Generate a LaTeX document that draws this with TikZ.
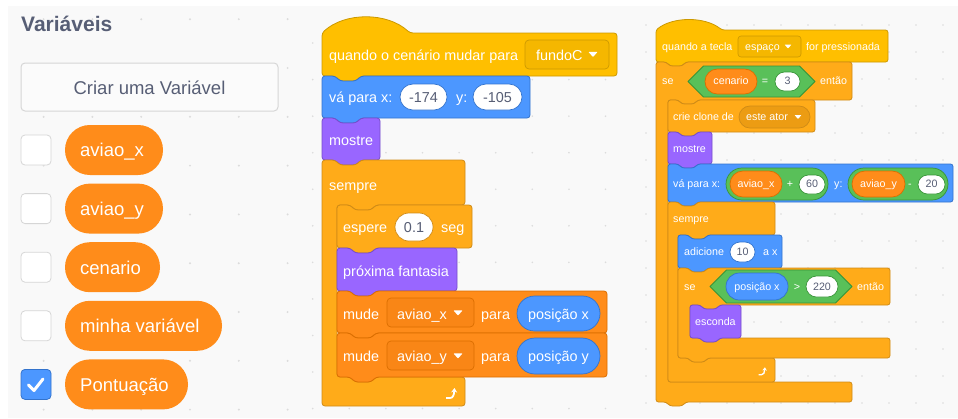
\documentclass[tikz,border=0pt]{standalone}
\usepackage{fontspec}
\setmainfont{Liberation Sans}
\usetikzlibrary{arrows.meta}
\definecolor{bg}{HTML}{F9F9F9}
\definecolor{dotc}{HTML}{DCDCDC}
\definecolor{txtg}{HTML}{575E75}
\definecolor{evt}{HTML}{FFBF00}
\definecolor{evtB}{HTML}{CC9900}
\definecolor{evtD}{HTML}{F5B700}
\definecolor{ctl}{HTML}{FFAB19}
\definecolor{ctlB}{HTML}{CF8B17}
\definecolor{ctlD}{HTML}{EC9C13}
\definecolor{mot}{HTML}{4C97FF}
\definecolor{motB}{HTML}{3373CC}
\definecolor{lks}{HTML}{9966FF}
\definecolor{lksB}{HTML}{774DCB}
\definecolor{varc}{HTML}{FF8C1A}
\definecolor{varB}{HTML}{DB6E00}
\definecolor{varD}{HTML}{F98616}
\definecolor{ops}{HTML}{59C059}
\definecolor{opsB}{HTML}{389438}
\definecolor{cbB}{HTML}{D6D6D6}
\newcommand\RC{3}
\newcommand\NA{13}
\newcommand\ND{5}
\newcommand\NF{16}
\newcommand\NDB{\ND}
\newcommand\setR{\renewcommand\RC{2.5}\renewcommand\NA{10}\renewcommand\ND{4}\renewcommand\NF{12}}
% stack block: x1 y1 x2 y2 fill draw
\newcommand\stk[6]{\filldraw[blk,fill=#5,draw=#6] (#1,#2) -- ({#1+\NA},#2) -- ({#1+\NA+\ND},{#2+\ND}) -- ({#1+\NA+\ND+\NF},{#2+\ND}) -- ({#1+\NA+2*\ND+\NF},#2) -- (#3,#2) -- (#3,#4) -- ({#1+\NA+2*\ND+\NF},#4) -- ({#1+\NA+\ND+\NF},{#4+\ND}) -- ({#1+\NA+\ND},{#4+\ND}) -- ({#1+\NA},#4) -- (#1,#4) -- cycle;}
% hat block: x1 y1 x2 y2 capwidth capctrl
\newcommand\hatblk[6]{\filldraw[blk,fill=evt,draw=evtB] (#1,#2) .. controls ({#1+0.26*#5},{#2-#6}) and ({#1+0.74*#5},{#2-#6}) .. ({#1+#5},#2) -- (#3,#2) -- (#3,#4) -- ({#1+\NA+2*\ND+\NF},#4) -- ({#1+\NA+\ND+\NF},{#4+\ND}) -- ({#1+\NA+\ND},{#4+\ND}) -- ({#1+\NA},#4) -- (#1,#4) -- cycle;}
% C block: x1 y1 x2 yArm xIn yIn2 yBot x2b bumpdepth
\newcommand\cblk[9]{\filldraw[blk,fill=ctl,draw=ctlB] (#1,#2) -- ({#1+\NA},#2) -- ({#1+\NA+\ND},{#2+\ND}) -- ({#1+\NA+\ND+\NF},{#2+\ND}) -- ({#1+\NA+2*\ND+\NF},#2) -- (#3,#2) -- (#3,#4) -- ({#5+\NA+2*\ND+\NF},#4) -- ({#5+\NA+\ND+\NF},{#4+\ND}) -- ({#5+\NA+\ND},{#4+\ND}) -- ({#5+\NA},#4) -- (#5,#4) -- (#5,#6) -- ({#5+\NA},#6) -- ({#5+\NA+\ND},{#6+\NDB}) -- ({#5+\NA+\ND+\NF},{#6+\NDB}) -- ({#5+\NA+2*\ND+\NF},#6) -- (#8,#6) -- (#8,#7) -- ({#1+\NA+2*\ND+\NF},#7) -- ({#1+\NA+\ND+\NF},{#7+#9}) -- ({#1+\NA+\ND},{#7+#9}) -- ({#1+\NA},#7) -- (#1,#7) -- cycle;}
\newcommand\pill[6]{\filldraw[fill=#5,draw=#6,line width=0.7pt,rounded corners={(#4-#2)/2-0.05}] (#1,#2) rectangle (#3,#4);}
\newcommand\hexa[4]{\filldraw[fill=ops,draw=opsB,line width=0.8pt,line join=round] (#1,{(#2+#4)/2}) -- ({#1+(#4-#2)/2},#2) -- ({#3-(#4-#2)/2},#2) -- (#3,{(#2+#4)/2}) -- ({#3-(#4-#2)/2},#4) -- ({#1+(#4-#2)/2},#4) -- cycle;}
\newcommand\tri[3]{\fill[white,rounded corners=0.5] ({#1-#3/2},{#2-#3*0.28}) -- ({#1+#3/2},{#2-#3*0.28}) -- (#1,{#2+#3*0.28}) -- cycle;}
\newcommand\loopar[3]{\draw[white,line width={1.8*#3},-{Stealth[length={4.5*#3},width={6*#3}]}] ({#1-6*#3},{#2+5*#3}) -- ({#1-2*#3},{#2+5*#3}) .. controls ({#1+1*#3},{#2+5*#3}) and ({#1+2*#3},{#2+2*#3}) .. ({#1+2.5*#3},{#2-5*#3});}
\begin{document}
\begin{tikzpicture}[x=1pt,y=-1pt,
  blk/.style={rounded corners=\RC, line width=0.8pt, line join=round},
  mtxt/.style={font=\fontsize{14.4}{17}\selectfont, text=white, inner sep=0pt, anchor=base west},
  mval/.style={font=\fontsize{14.4}{17}\selectfont, text=txtg, inner sep=0pt, anchor=base},
  rtxt/.style={font=\fontsize{10.7}{13}\selectfont, text=white, inner sep=0pt, anchor=base west},
  rval/.style={font=\fontsize{10.7}{13}\selectfont, text=txtg, inner sep=0pt, anchor=base},
  ltxt/.style={font=\fontsize{18.5}{22}\selectfont, text=white, inner sep=0pt, anchor=base west}]
\useasboundingbox (0,0) rectangle (958,418);
\fill[white] (0,0) rectangle (958,418);
\fill[bg] (8,6) rectangle (958,418);
% dot grids
\foreach \i in {0,...,5}{\foreach \j in {0,...,8}{\fill[dotc] ({43.6+48.8*\i},{19.2+48.8*\j}) circle (1.1);}}
\foreach \i in {0,...,8}{\foreach \j in {1,...,11}{\fill[dotc] ({312.7+36.6*\i},{6.5+36.55*\j}) circle (0.9);}}
\foreach \i in {0,...,11}{\foreach \j in {0,...,14}{\fill[dotc] ({646+27*\i},{25+27*\j}) circle (0.8);}}

% ---------------- palette ----------------
\node[font=\bfseries\fontsize{21}{25}\selectfont, text=txtg, inner sep=0pt, anchor=base west] (title) at (21,31.5) {Variáveis};
\filldraw[fill=white!40!bg,draw=cbB,line width=1pt,rounded corners=4] (21,63) rectangle (278,111);
\node[font=\fontsize{18.5}{22}\selectfont, text=txtg, inner sep=0pt, anchor=base] (btn) at (149.5,94.5) {Criar uma Variável};
\foreach \yc/\xr/\nm/\lab in {150/163/v1/aviao\_x, 208.6/163/v2/aviao\_y, 267.2/160/v3/cenario, 325.8/222/v4/minha variável, 384.4/188/v5/Pontuação}{
  \fill[varc,rounded corners=24.9] (65,{\yc-25}) rectangle (\xr,{\yc+25});
  \node[ltxt] (\nm) at (80,{\yc+6.8}) {\lab};
}
\foreach \yc in {150,208.6,267.2,325.8}{
  \filldraw[fill=white,draw=cbB,line width=0.8pt,rounded corners=4] (21,{\yc-15}) rectangle (51,{\yc+15});
}
\filldraw[fill=mot,draw=motB,line width=0.8pt,rounded corners=4] (21,369.4) rectangle (51,399.4);
\draw[white,line width=3pt,line cap=round,line join=round] (28.5,385) -- (34,390.5) -- (43,379);

% ---------------- middle script ----------------
\hatblk{322}{33}{617}{76}{88}{21}
\filldraw[fill=evtD,draw=evtB,line width=0.7pt,rounded corners=4] (525,40) rectangle (609,69);
\node[mtxt] (h1) at (329,60.2) {quando o cenário mudar para};
\node[mtxt] (h1d) at (536,60.2) {fundoC};
\tri{593}{54.5}{9}

\stk{322}{76}{530}{118}{mot}{motB}
\node[mtxt] (g1) at (329,102.2) {vá para x:};
\pill{400}{84}{447}{110}{white}{motB}
\node[mval] (g1x) at (423.5,102.2) {-174};
\node[mtxt] (g1y) at (456,102.2) {y:};
\pill{473}{84}{522}{110}{white}{motB}
\node[mval] (g1yv) at (497.5,102.2) {-105};

\stk{322}{118}{380}{160}{lks}{lksB}
\node[mtxt] (m1) at (329,145.2) {mostre};

\cblk{322}{160}{465}{205}{337}{377}{406}{465}{0}
\node[mtxt] (s1) at (329,190.2) {sempre};
\loopar{452}{393}{1}

\stk{337}{205}{472}{248}{ctl}{ctlB}
\node[mtxt] (e1) at (343,232.2) {espere};
\pill{395}{213}{433}{241}{white}{ctlB}
\node[mval] (e1v) at (414,232.2) {0.1};
\node[mtxt] (e1s) at (441,232.2) {seg};

\stk{337}{248}{457}{291}{lks}{lksB}
\node[mtxt] (p1) at (343,276.2) {próxima fantasia};

\stk{337}{291}{607}{333}{varc}{varB}
\node[mtxt] (u1) at (343,319.2) {mude};
\filldraw[fill=varD,draw=varB,line width=0.7pt,rounded corners=4] (387,298) rectangle (474,327);
\node[mtxt] (u1d) at (397,319.2) {aviao\_x};
\tri{458}{313}{9}
\node[mtxt] (u1p) at (481,319.2) {para};
\pill{517}{296}{600}{331}{mot}{motB}
\node[mtxt,anchor=base] (u1v) at (558.5,319.2) {posição x};

\stk{337}{333}{607}{377}{varc}{varB}
\node[mtxt] (u2) at (343,361.2) {mude};
\filldraw[fill=varD,draw=varB,line width=0.7pt,rounded corners=4] (387,341) rectangle (474,370);
\node[mtxt] (u2d) at (397,361.2) {aviao\_y};
\tri{458}{356}{9}
\node[mtxt] (u2p) at (481,361.2) {para};
\pill{517}{338}{600}{374}{mot}{motB}
\node[mtxt,anchor=base] (u2v) at (558.5,361.2) {posição y};

% ---------------- right script ----------------
\setR
\hatblk{656}{30}{888}{62}{66}{13.5}
\filldraw[fill=evtD,draw=evtB,line width=0.6pt,rounded corners=3] (738,36) rectangle (801,57);
\node[rtxt] (k1) at (662,50.9) {quando a tecla};
\node[rtxt] (k1d) at (745,50.9) {espaço};
\tri{788}{46.5}{7}
\node[rtxt] (k1f) at (806,50.9) {for pressionada};

\renewcommand\NDB{0}
\cblk{656}{62}{852}{100}{668}{382}{402}{852}{\ND}
\renewcommand\NDB{\ND}
\node[rtxt] (if1) at (662,84.9) {se};
\hexa{688}{66}{815}{97}
\pill{705}{69}{757}{94}{varc}{varB}
\node[rtxt,anchor=base] (if1a) at (731,84.9) {cenario};
\node[rtxt,anchor=base] (if1o) at (765,84.9) {=};
\pill{775}{72}{800}{91}{white}{opsB}
\node[rval] (if1b) at (787.5,84.9) {3};
\node[rtxt] (if1t) at (820,84.9) {então};

\stk{668}{100}{815}{132}{ctl}{ctlB}
\node[rtxt] (c1) at (673,120.9) {crie clone de};
\pill{739}{106}{810}{128}{ctlD}{ctlB}
\node[rtxt] (c1d) at (746,120.9) {este ator};
\tri{798}{117}{7}

\stk{668}{132}{712}{164}{lks}{lksB}
\node[rtxt] (m2) at (673,152.9) {mostre};

\stk{668}{164}{953}{202}{mot}{motB}
\node[rtxt] (g2) at (673,187.9) {vá para x:};
\pill{726}{168}{828}{200}{ops}{opsB}
\pill{730}{171}{782}{197}{varc}{varB}
\node[rtxt,anchor=base] (g2a) at (756,187.9) {aviao\_x};
\node[rtxt,anchor=base] (g2o) at (790,187.9) {+};
\pill{799}{175}{825}{194}{white}{opsB}
\node[rval] (g2b) at (812,187.9) {60};
\node[rtxt] (g2y) at (834,187.9) {y:};
\pill{848}{168}{948}{200}{ops}{opsB}
\pill{852}{171}{905}{197}{varc}{varB}
\node[rtxt,anchor=base] (g2c) at (878.5,187.9) {aviao\_y};
\node[rtxt,anchor=base] (g2o2) at (910,187.9) {-};
\pill{918}{175}{945}{194}{white}{opsB}
\node[rval] (g2d) at (931.5,187.9) {20};

\cblk{668}{202}{775}{235}{678}{358}{382}{775}{0}
\node[rtxt] (s2) at (673,222.9) {sempre};
\loopar{763}{371}{0.75}

\stk{678}{235}{782}{268}{mot}{motB}
\node[rtxt] (a1) at (684,255.9) {adicione};
\pill{730}{242}{755}{262}{white}{motB}
\node[rval] (a1v) at (742.5,255.9) {10};
\node[rtxt] (a1x) at (763,255.9) {a x};

\cblk{678}{268}{890}{305}{690}{338}{358}{890}{\ND}
\node[rtxt] (if2) at (684,290.9) {se};
\hexa{710}{270}{852}{303}
\pill{726}{273}{788}{300}{mot}{motB}
\node[rtxt,anchor=base] (if2a) at (757,290.9) {posição x};
\node[rtxt,anchor=base] (if2o) at (797,290.9) {>};
\pill{806}{276}{838}{297}{white}{opsB}
\node[rval] (if2b) at (822,290.9) {220};
\node[rtxt] (if2t) at (857,290.9) {então};

\stk{690}{305}{741}{338}{lks}{lksB}
\node[rtxt] (h2) at (695,325.9) {esconda};
\end{tikzpicture}
\end{document}
